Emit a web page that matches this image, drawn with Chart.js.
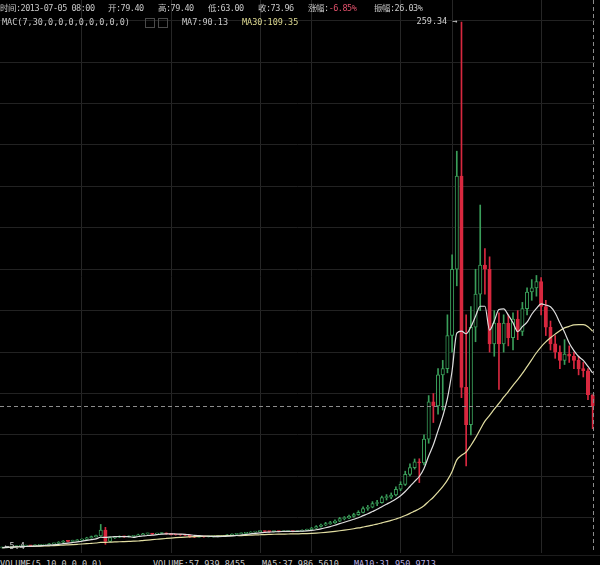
<!DOCTYPE html>
<html>
<head>
<meta charset="utf-8">
<script src="https://cdn.jsdelivr.net/npm/chart.js@4"></script>
<style>
    html, body { margin: 0; padding: 0; background: #000; width: 600px; height: 565px; overflow: hidden; }
    #wrap { position: absolute; left: 0; top: 0; width: 595px; height: 553px; }
    .t { position: absolute; font-family: "DejaVu Sans Mono", "Noto Sans CJK SC", monospace; font-size: 8.5px; line-height: 10px; color: #c8c8c8; white-space: pre; }
    .r1 { top: 3px; letter-spacing: -0.5px; }
    .r2 { top: 17px; }
    .r3 { top: 559px; }
    .ico { position: absolute; top: 18px; width: 8px; height: 8px; border: 1px solid #4a4a4a; }
    #sep { position: absolute; left: 0; top: 555px; width: 600px; height: 1px; background: #1c1c1c; }
</style>
</head>
<body>
<div id="wrap"><canvas id="chart"></canvas></div>
<div id="sep"></div>

<div class="t r1" style="left:0">时间:2013-07-05 08:00</div>
<div class="t r1" style="left:108px">开:79.40</div>
<div class="t r1" style="left:158px">高:79.40</div>
<div class="t r1" style="left:208px">低:63.00</div>
<div class="t r1" style="left:258px">收:73.96</div>
<div class="t r1" style="left:308px">涨幅:<span style="color:#e0506a">-6.85%</span></div>
<div class="t r1" style="left:374px">振幅:26.03%</div>

<div class="t r2" style="left:2px">MAC(7,30,0,0,0,0,0,0,0,0)</div>
<div class="ico" style="left:145px"></div>
<div class="ico" style="left:158px"></div>
<div class="t r2" style="left:182px">MA7:90.13</div>
<div class="t r2" style="left:242px;color:#dcd890">MA30:109.35</div>

<div class="t r3" style="left:0">VOLUME(5,10,0,0,0,0)</div>
<div class="t r3" style="left:153px">VOLUME:57,939.8455</div>
<div class="t r3" style="left:262px">MA5:37,986.5610</div>
<div class="t r3" style="left:354px;color:#b8aee0">MA10:31,950.9713</div>

<script>
// 3-day candles, mid 2012 -> 2013-07-05
const opens = [5.5,5.6,5.8,6.1,6.3,6.4,6.6,6.5,6.7,6.8, 7.0,7.4,7.6,8.2,8.7,8.6,8.9,9.2,9.6,10.3,
    10.9,11.2,14.1,8.6,10.4,10.6,10.9,10.8,11.0,11.2, 11.8,12.2,12.3,12.1,12.4,12.6,12.2,11.9,11.8,11.7,
    11.6,10.9,10.7,11.0,10.8,10.9,10.9,11.1,11.3,11.7, 12.0,12.3,12.5,12.6,13.1,13.3,13.5,13.4,13.3,13.5,
    13.4,13.4,13.5,13.4,13.6,14.0,14.3,15.0,15.8,16.5, 17.2,17.6,18.4,19.6,19.9,20.7,21.5,22.6,24.5,25.1,
    26.9,27.3,29.7,29.9,31.0,33.8,36.1,41.0,44.2,47.0, 46.5,58,76,74,89,92,108,140,185,83,
    65,112,128,142,140,104,114,104,114,107, 116,110,121,129,131,134,122,112,104,100,
    96,99,98,96,92,91,79.40];
const highs = [5.8,5.9,6.2,6.5,6.6,6.8,6.7,6.9,7.0,7.2, 7.6,7.8,8.5,9.0,9.0,9.2,9.5,9.9,10.6,11.2,
    11.6,16.8,15.4,10.9,11.0,11.3,11.2,11.3,11.5,12.1, 12.5,12.6,12.5,12.6,12.9,12.7,12.3,12.1,12.0,11.9,
    11.7,11.0,11.2,11.1,11.1,11.0,11.3,11.5,11.9,12.2, 12.5,12.7,12.8,13.3,13.5,13.7,13.6,13.5,13.7,13.6,
    13.6,13.7,13.6,13.8,14.2,14.6,15.4,16.2,17.0,17.8, 18.3,19.0,20.2,20.6,21.3,22.2,23.4,25.3,26.0,27.8,
    28.4,30.5,31.2,32.0,34.9,37.4,42.5,46.0,48.4,48.5, 60,79,80,92,96,118,147,197,259.34,118,
    122,140,171,150,146,120,119,118,118,119, 120,124,131,135,137,136,125,115,108,103,
    106,103,100,98,95,92,79.40];
const lows = [5.4,5.5,5.7,6.0,6.2,6.3,6.3,6.4,6.6,6.7, 6.9,7.2,7.5,8.0,8.3,8.5,8.8,9.0,9.5,10.1,
    10.7,11.0,7.2,8.4,10.0,10.4,10.5,10.6,10.9,11.1, 11.7,12.0,11.9,12.0,12.3,12.0,11.7,11.6,11.5,11.4,
    10.5,10.4,10.6,10.6,10.7,10.7,10.8,11.0,11.2,11.6, 11.9,12.2,12.3,12.5,13.0,13.2,13.2,13.1,13.2,13.2,
    13.3,13.3,13.2,13.3,13.5,13.9,14.2,14.8,15.5,16.2, 16.8,17.3,18.1,19.0,19.6,20.3,21.2,22.4,23.6,24.8,
    25.8,27.0,28.6,29.2,30.6,33.1,35.6,40.2,43.5,37.0, 45.5,56,66,70,72,90,100,132,78,45,
    60,105,120,128,100,98,82,100,103,101, 106,108,118,125,127,118,108,101,97,92,
    94,95,92,89,88,77,63.00];
const closes = [5.6,5.8,6.1,6.3,6.4,6.6,6.5,6.7,6.8,7.0, 7.4,7.6,8.2,8.7,8.6,8.9,9.2,9.6,10.3,10.9,
    11.2,14.1,8.6,10.4,10.6,10.9,10.8,11.0,11.2,11.8, 12.2,12.3,12.1,12.4,12.6,12.2,11.9,11.8,11.7,11.6,
    10.9,10.7,11.0,10.8,10.9,10.9,11.1,11.3,11.7,12.0, 12.3,12.5,12.6,13.1,13.3,13.5,13.4,13.3,13.5,13.4,
    13.4,13.5,13.4,13.6,14.0,14.3,15.0,15.8,16.5,17.2, 17.6,18.4,19.6,19.9,20.7,21.5,22.6,24.5,25.1,26.9,
    27.3,29.7,29.9,31.0,33.8,36.1,41.0,44.2,47.0,46.5, 58,76,74,89,92,108,140,185,83,65,
    112,128,142,140,104,114,104,114,107,116, 110,121,129,131,134,122,112,104,100,96,
    99,98,96,92,91,79.4,73.96];

// candle indexes that carry a vertical grid line
const gridCols = [17, 36, 55, 66, 85, 96, 115];

const UP = '#3a9e5a', DOWN = '#d8283f';

const labels = closes.map((_, i) => String(i));
const isUp = closes.map((c, i) => c >= opens[i]);
const candleColor = isUp.map(u => u ? UP : DOWN);
const bodyFill = isUp.map(u => u ? '#000000' : DOWN);

const movingAvg = (n) => closes.map((_, i) => {
    const win = closes.slice(Math.max(0, i - n + 1), i + 1);
    return win.reduce((s, v) => s + v, 0) / win.length;
});

// crosshair on the last candle + high / low markers
const overlay = {
    id: 'overlay',
    afterDatasetsDraw(chart) {
        const { ctx, chartArea: a, scales: { x, y } } = chart;
        const last = closes.length - 1;
        ctx.save();
        ctx.strokeStyle = '#8c8c8c';
        ctx.lineWidth = 1;
        ctx.setLineDash([4, 3]);
        const cy = Math.round(y.getPixelForValue(closes[last])) + 0.5;
        ctx.beginPath(); ctx.moveTo(a.left, cy); ctx.lineTo(a.right, cy); ctx.stroke();
        const cx = Math.round(x.getPixelForValue(last)) + 0.5;
        ctx.beginPath(); ctx.moveTo(cx, a.top); ctx.lineTo(cx, a.bottom); ctx.stroke();
        ctx.setLineDash([]);

        ctx.font = '8.5px "DejaVu Sans Mono", monospace';
        ctx.fillStyle = '#d0d0d0';
        ctx.textBaseline = 'middle';
        const hi = Math.max(...highs), hiIdx = highs.indexOf(hi);
        ctx.textAlign = 'right';
        ctx.fillText(hi.toFixed(2) + ' \u2192', x.getPixelForValue(hiIdx) - 4, y.getPixelForValue(hi));
        const lo = Math.min(...lows), loIdx = lows.indexOf(lo);
        ctx.textAlign = 'left';
        ctx.fillText('\u2190' + lo.toFixed(1), x.getPixelForValue(loIdx) + 2, y.getPixelForValue(lo) - 1);
        ctx.restore();
    }
};

new Chart(document.getElementById('chart'), {
    data: {
        labels: labels,
        datasets: [
            {
                type: 'bar', label: 'wick', order: 3, grouped: false,
                data: lows.map((l, i) => [l, highs[i]]),
                backgroundColor: candleColor, barThickness: 1
            },
            {
                type: 'bar', label: 'body', order: 2, grouped: false,
                data: opens.map((o, i) => [o, closes[i]]),
                backgroundColor: bodyFill, borderColor: candleColor,
                borderWidth: 1, borderSkipped: false, barThickness: 3.4, minBarLength: 1
            },
            {
                type: 'line', label: 'MA7', order: 1, data: movingAvg(7),
                borderColor: '#dedede', borderWidth: 1.2, pointRadius: 0,
                cubicInterpolationMode: 'monotone'
            },
            {
                type: 'line', label: 'MA30', order: 1, data: movingAvg(30),
                borderColor: '#e2dea2', borderWidth: 1.2, pointRadius: 0,
                cubicInterpolationMode: 'monotone'
            }
        ]
    },
    options: {
        responsive: true, maintainAspectRatio: false, animation: false,
        devicePixelRatio: 1,
        layout: { padding: 0 },
        plugins: { legend: { display: false }, tooltip: { enabled: false } },
        scales: {
            x: {
                type: 'category', offset: true,
                ticks: { display: false, autoSkip: false },
                grid: {
                    offset: false, drawTicks: false,
                    color: (c) => gridCols.includes(c.index) ? '#262626' : 'rgba(0,0,0,0)'
                },
                border: { display: false },
                afterFit: (s) => { s.height = 0; }
            },
            y: {
                min: 3, max: 270,
                ticks: { display: false, stepSize: 20 },
                grid: {
                    drawTicks: false,
                    color: (c) => (c.tick.value % 20 === 0 && c.tick.value > 0) ? '#222222' : 'rgba(0,0,0,0)'
                },
                border: { display: false },
                afterFit: (s) => { s.width = 0; }
            }
        }
    },
    plugins: [overlay]
});
</script>
</body>
</html>
